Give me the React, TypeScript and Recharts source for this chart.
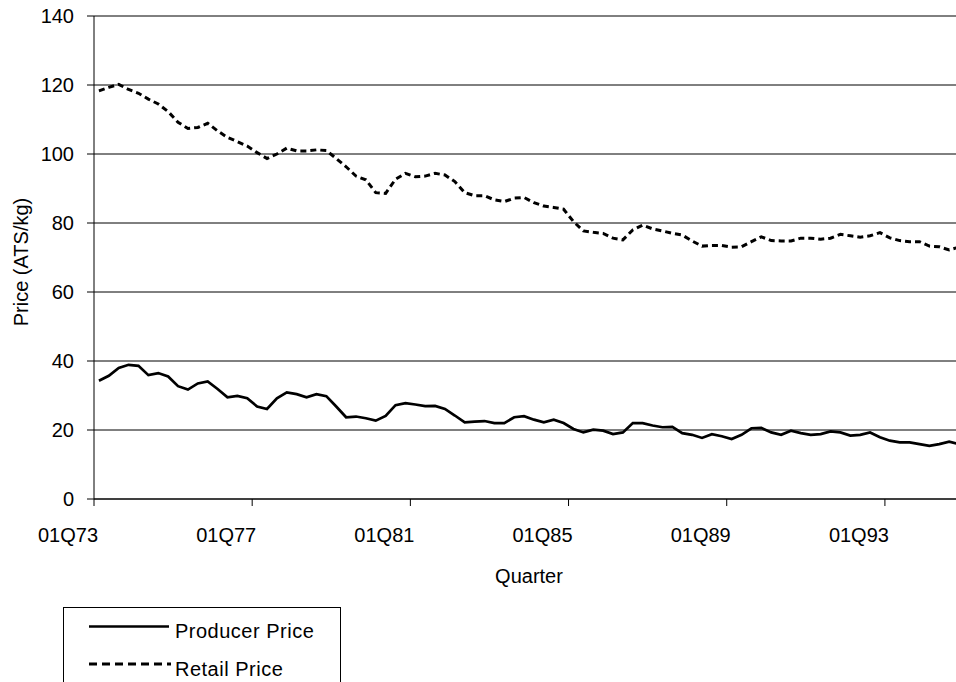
import { CartesianGrid, Line, LineChart, XAxis, YAxis } from "recharts"

// quarterly series, 1973Q1 .. 1994Q4 (ATS/kg)
const startYear = 73
const quarters: string[] = []
for (let y = startYear; y <= 94; y++) {
  for (let q = 1; q <= 4; q++) quarters.push(`0${q}Q${y}`)
}

const producerPrice = [
  34.3, 35.7, 38.0, 38.9, 38.6, 35.9, 36.5, 35.5, 32.7, 31.7, 33.5, 34.1, 31.9, 29.5, 29.9, 29.2,
  26.8, 26.1, 29.2, 30.9, 30.4, 29.5, 30.4, 29.8, 26.8, 23.7, 23.9, 23.4, 22.7, 24.1, 27.2, 27.8,
  27.4, 26.9, 27.0, 26.1, 24.2, 22.2, 22.4, 22.6, 22.0, 22.0, 23.7, 24.0, 23.0, 22.2, 23.0, 22.0,
  20.3, 19.3, 20.1, 19.8, 18.8, 19.3, 22.0, 22.0, 21.3, 20.8, 20.9, 19.1, 18.6, 17.7, 18.8, 18.2,
  17.4, 18.6, 20.5, 20.6, 19.3, 18.6, 19.8, 19.1, 18.6, 18.8, 19.6, 19.3, 18.4, 18.6, 19.3, 17.9,
  16.9, 16.4, 16.4, 15.9, 15.4, 15.9, 16.6, 15.9
]

const retailPrice = [
  118.3, 119.3, 120.2, 118.7, 117.6, 115.9, 114.5, 112.3, 109.2, 107.4, 107.7, 108.9, 106.7, 104.8, 103.6, 102.3,
  100.4, 98.7, 100.0, 101.7, 100.9, 100.9, 101.2, 101.0, 98.7, 96.3, 93.6, 92.5, 88.8, 88.6, 92.7, 94.4,
  93.4, 93.6, 94.4, 93.9, 92.0, 88.8, 87.9, 87.9, 86.7, 86.2, 87.2, 87.4, 85.9, 84.9, 84.5, 84.0,
  80.4, 77.7, 77.3, 77.0, 75.6, 75.1, 78.0, 79.4, 78.3, 77.7, 77.0, 76.5, 74.8, 73.3, 73.5, 73.5,
  73.0, 73.1, 74.6, 76.0, 74.9, 74.8, 74.8, 75.6, 75.6, 75.3, 75.6, 76.7, 76.3, 75.9, 76.3, 77.2,
  75.7, 74.9, 74.6, 74.6, 73.3, 73.1, 72.2, 73.0
]

const yTicks = [0, 20, 40, 60, 80, 100, 120, 140]
const xTickIndex = [-0.5, 15.5, 31.5, 47.5, 63.5, 79.5]
const xTickLabels = ["01Q73", "01Q77", "01Q81", "01Q85", "01Q89", "01Q93"]

const data = quarters.map((label, i) => ({
  idx: i,
  label,
  producer: producerPrice[i],
  retail: retailPrice[i]
}))

const FONT = "'Liberation Sans', Arial, sans-serif"
const textStyle = { fontFamily: FONT, fontSize: 20, fill: "#000" }

function QuarterTick(props: any) {
  const { x, y, payload } = props
  const k = xTickIndex.indexOf(payload.value)
  return (
    <text x={x - 26} y={y + 34} textAnchor="middle" {...textStyle}>
      {xTickLabels[k]}
    </text>
  )
}

export default function App() {
  return (
    <div
      style={{
        position: "absolute",
        left: 0,
        top: 0,
        width: 956,
        height: 682,
        overflow: "hidden",
        background: "#fff"
      }}
    >
      <LineChart
        width={964}
        height={682}
        data={data}
        margin={{ top: 16, right: 0, bottom: 143, left: 0 }}
      >
        <CartesianGrid horizontal vertical={false} stroke="#000" strokeWidth={1} />
        <XAxis
          dataKey="idx"
          type="number"
          domain={[-0.5, 87.5]}
          ticks={xTickIndex}
          interval={0}
          height={40}
          stroke="#000"
          tickSize={7}
          tick={<QuarterTick />}
          label={{
            content: () => (
              <text x={529} y={583} textAnchor="middle" {...textStyle}>
                Quarter
              </text>
            )
          }}
        />
        <YAxis
          domain={[0, 140]}
          ticks={yTicks}
          width={94}
          stroke="#000"
          tickSize={7}
          tickMargin={13}
          tick={textStyle}
          label={{
            content: () => (
              <text
                x={28}
                y={262}
                textAnchor="middle"
                transform="rotate(-90, 28, 262)"
                {...textStyle}
              >
                Price (ATS/kg)
              </text>
            )
          }}
        />
        <Line
          type="linear"
          dataKey="retail"
          stroke="#000"
          strokeWidth={3}
          strokeDasharray="6 4"
          dot={false}
          isAnimationActive={false}
        />
        <Line
          type="linear"
          dataKey="producer"
          stroke="#000"
          strokeWidth={2.7}
          dot={false}
          isAnimationActive={false}
        />
      </LineChart>

      <div
        style={{
          position: "absolute",
          left: 63,
          top: 607,
          width: 276,
          height: 100,
          border: "1px solid #000",
          background: "#fff"
        }}
      >
        <svg width={276} height={100} style={{ display: "block" }}>
          <line x1={25} x2={105} y1={18.5} y2={18.5} stroke="#000" strokeWidth={2.5} />
          <text x={111} y={30} letterSpacing={0.5} {...textStyle}>
            Producer Price
          </text>
          <line
            x1={25}
            x2={107}
            y1={56}
            y2={56}
            stroke="#000"
            strokeWidth={3}
            strokeDasharray="8 5"
          />
          <text x={111} y={68} letterSpacing={0.5} {...textStyle}>
            Retail Price
          </text>
        </svg>
      </div>
    </div>
  )
}
